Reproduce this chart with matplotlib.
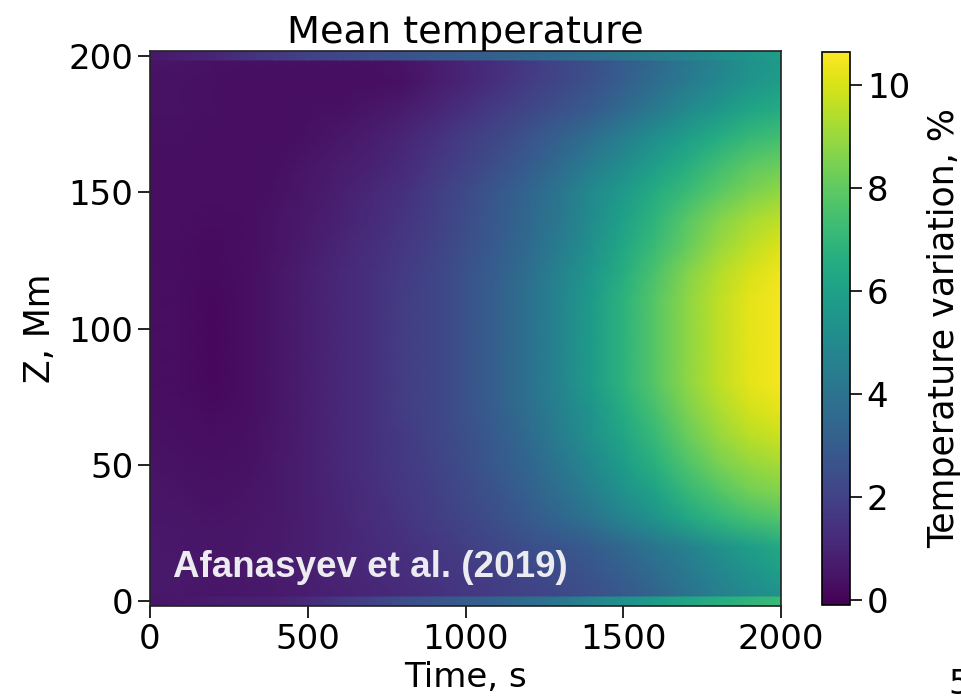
import numpy as np
import matplotlib
matplotlib.use("Agg")
import matplotlib.pyplot as plt

# time samples (s)
time_s = [0, 100, 200, 300, 400, 500, 600, 700, 800, 900, 1000,
          1100, 1200, 1300, 1400, 1500, 1600, 1700, 1800, 1900, 2000]

# interior height samples (Mm)
height_mm = [1.5, 10, 20, 30, 40, 50, 60, 70, 80, 90, 100,
             110, 120, 130, 140, 150, 160, 170, 180, 190, 198.5]

# temperature variation (%) rows, bottom to top
z002 = [0.6, 0.55, 0.5, 0.55, 0.65, 0.75, 0.9, 1.05, 1.2, 1.4, 1.6, 1.8, 2.0, 2.2, 2.5, 2.8, 3.3, 3.9, 4.5, 5.0, 5.3]
z010 = [0.65, 0.6, 0.55, 0.6, 0.7, 0.8, 1.0, 1.15, 1.3, 1.5, 1.7, 1.9, 2.2, 2.4, 2.7, 3.1, 3.6, 4.2, 4.8, 5.4, 5.9]
z020 = [0.6, 0.55, 0.5, 0.55, 0.65, 0.8, 1.0, 1.2, 1.4, 1.6, 1.9, 2.2, 2.5, 2.7, 3.0, 3.5, 4.1, 4.6, 5.3, 5.9, 6.4]
z030 = [0.55, 0.5, 0.45, 0.5, 0.6, 0.8, 1.0, 1.25, 1.5, 1.8, 2.1, 2.5, 2.9, 3.4, 4.0, 4.7, 5.4, 6.2, 6.9, 7.4, 7.7]
z040 = [0.5, 0.45, 0.4, 0.45, 0.6, 0.8, 1.05, 1.3, 1.6, 1.9, 2.3, 2.7, 3.2, 3.8, 4.5, 5.3, 6.1, 7.0, 7.7, 8.3, 8.6]
z050 = [0.45, 0.4, 0.35, 0.4, 0.6, 0.8, 1.1, 1.4, 1.7, 2.0, 2.4, 2.9, 3.4, 4.1, 4.9, 5.8, 6.7, 7.6, 8.4, 8.9, 9.2]
z060 = [0.4, 0.35, 0.3, 0.35, 0.55, 0.8, 1.1, 1.4, 1.7, 2.1, 2.5, 3.0, 3.6, 4.4, 5.3, 6.2, 7.1, 8.1, 8.9, 9.5, 9.8]
z070 = [0.35, 0.3, 0.2, 0.3, 0.5, 0.8, 1.1, 1.4, 1.8, 2.1, 2.6, 3.1, 3.8, 4.6, 5.5, 6.5, 7.5, 8.5, 9.3, 9.9, 10.2]
z080 = [0.3, 0.25, 0.15, 0.3, 0.5, 0.8, 1.1, 1.4, 1.8, 2.1, 2.6, 3.2, 3.9, 4.8, 5.8, 6.8, 7.8, 8.8, 9.6, 10.2, 10.5]
z090 = [0.3, 0.25, 0.15, 0.3, 0.5, 0.8, 1.1, 1.4, 1.8, 2.1, 2.6, 3.2, 3.9, 4.8, 5.8, 6.8, 7.8, 8.8, 9.6, 10.2, 10.5]
z100 = [0.3, 0.25, 0.15, 0.3, 0.5, 0.8, 1.1, 1.4, 1.8, 2.1, 2.6, 3.2, 3.9, 4.8, 5.8, 6.8, 7.8, 8.8, 9.6, 10.2, 10.5]
z110 = [0.3, 0.25, 0.15, 0.3, 0.5, 0.8, 1.1, 1.4, 1.8, 2.1, 2.6, 3.2, 3.9, 4.8, 5.8, 6.8, 7.8, 8.8, 9.6, 10.2, 10.5]
z120 = [0.3, 0.25, 0.2, 0.3, 0.5, 0.8, 1.1, 1.4, 1.75, 2.1, 2.6, 3.1, 3.8, 4.7, 5.6, 6.6, 7.6, 8.6, 9.4, 10.0, 10.4]
z130 = [0.25, 0.25, 0.2, 0.3, 0.45, 0.7, 1.0, 1.3, 1.6, 2.0, 2.5, 3.0, 3.6, 4.4, 5.3, 6.3, 7.2, 8.1, 9.0, 9.6, 10.1]
z140 = [0.3, 0.3, 0.25, 0.3, 0.45, 0.65, 0.9, 1.2, 1.5, 1.9, 2.4, 2.9, 3.5, 4.2, 5.1, 6.0, 6.9, 7.8, 8.6, 9.2, 9.6]
z150 = [0.3, 0.3, 0.3, 0.3, 0.4, 0.6, 0.8, 1.1, 1.4, 1.8, 2.3, 2.8, 3.4, 4.1, 5.0, 5.7, 6.5, 7.2, 7.9, 8.5, 8.9]
z160 = [0.3, 0.3, 0.3, 0.3, 0.35, 0.5, 0.7, 0.9, 1.2, 1.6, 2.0, 2.5, 3.0, 3.6, 4.4, 5.1, 5.9, 6.6, 7.3, 7.9, 8.2]
z170 = [0.35, 0.35, 0.3, 0.3, 0.3, 0.4, 0.55, 0.75, 1.0, 1.4, 1.8, 2.2, 2.7, 3.2, 3.8, 4.5, 5.2, 5.9, 6.5, 7.1, 7.4]
z180 = [0.4, 0.4, 0.35, 0.3, 0.3, 0.35, 0.4, 0.5, 0.7, 1.0, 1.4, 1.8, 2.2, 2.6, 3.0, 3.6, 4.3, 5.0, 5.6, 6.2, 6.5]
z190 = [0.4, 0.4, 0.35, 0.3, 0.3, 0.3, 0.3, 0.3, 0.4, 0.7, 1.0, 1.4, 1.8, 2.2, 2.6, 3.1, 3.7, 4.3, 4.9, 5.5, 5.9]
z198 = [0.45, 0.45, 0.4, 0.35, 0.35, 0.35, 0.35, 0.35, 0.45, 0.7, 1.0, 1.3, 1.7, 2.1, 2.5, 3.0, 3.5, 4.1, 4.7, 5.3, 5.7]

# boundary rows (z = 0 and z = 200)
bottom_boundary = [0.5, 0.6, 0.7, 0.8, 0.9, 1.2, 1.6, 2.0, 2.4, 2.7, 3.0, 3.3, 3.7, 4.1, 4.8, 5.3, 5.8, 6.2, 6.6, 6.9, 7.2]
top_boundary = [0.6, 0.8, 1.0, 1.4, 1.7, 2.0, 2.2, 2.4, 2.6, 2.8, 3.0, 3.2, 3.4, 3.6, 3.8, 4.1, 4.4, 4.7, 5.1, 5.5, 5.9]

cbar_ticks = [0, 2, 4, 6, 8, 10]
x_ticks = [0, 500, 1000, 1500, 2000]
y_ticks = [0, 50, 100, 150, 200]

rows = [z002, z010, z020, z030, z040, z050, z060, z070, z080, z090, z100,
        z110, z120, z130, z140, z150, z160, z170, z180, z190, z198]
T = np.array(rows)
t = np.array(time_s, dtype=float)
z = np.array(height_mm, dtype=float)

vmin, vmax = -0.1, 10.65
cmap = "viridis"

fig = plt.figure(figsize=(9.61, 6.98), dpi=100)
ax = fig.add_axes([150 / 961, 1 - 606 / 698, 631 / 961, 555 / 698])
cax = fig.add_axes([822 / 961, 1 - 605 / 698, 28 / 961, 553 / 698])

mesh = ax.pcolormesh(t, z, T, shading="gouraud", cmap=cmap, vmin=vmin, vmax=vmax)
bb = np.array(bottom_boundary)
tb = np.array(top_boundary)
ax.pcolormesh(t, [-1.8, 1.5], np.vstack([bb, bb]), shading="gouraud", cmap=cmap, vmin=vmin, vmax=vmax)
ax.pcolormesh(t, [198.5, 201.8], np.vstack([tb, tb]), shading="gouraud", cmap=cmap, vmin=vmin, vmax=vmax)

ax.set_xlim(0, 2000)
ax.set_ylim(-1.8, 201.8)
ax.set_xticks(x_ticks)
ax.set_yticks(y_ticks)
ax.tick_params(labelsize=24.5, length=8.6, width=1.4, direction="out", color="#222222")
for s in ax.spines.values():
    s.set_linewidth(1.2)
    s.set_color("#222222")

ax.set_title("Mean temperature", fontsize=27.5, pad=6)
ax.set_xlabel("Time, s", fontsize=24.5, labelpad=4)
ax.set_ylabel("Z, Mm", fontsize=25, labelpad=8)

ax.text(73, 9, "Afanasyev et al. (2019)", fontsize=26.5, fontweight="bold",
        family=["Liberation Sans", "DejaVu Sans"], color="#ececf0", ha="left", va="baseline")

cb = fig.colorbar(mesh, cax=cax)
cb.set_ticks(cbar_ticks)
cb.ax.tick_params(labelsize=24.5, length=8.6, width=1.4, color="#222222")
cb.outline.set_linewidth(1.2)
cb.set_label("Temperature variation, %", fontsize=25, labelpad=12)

fig.text(948 / 961, 1 - 668 / 698, "5", fontsize=24, ha="left", va="top")

fig.savefig("out.png", dpi=100)
